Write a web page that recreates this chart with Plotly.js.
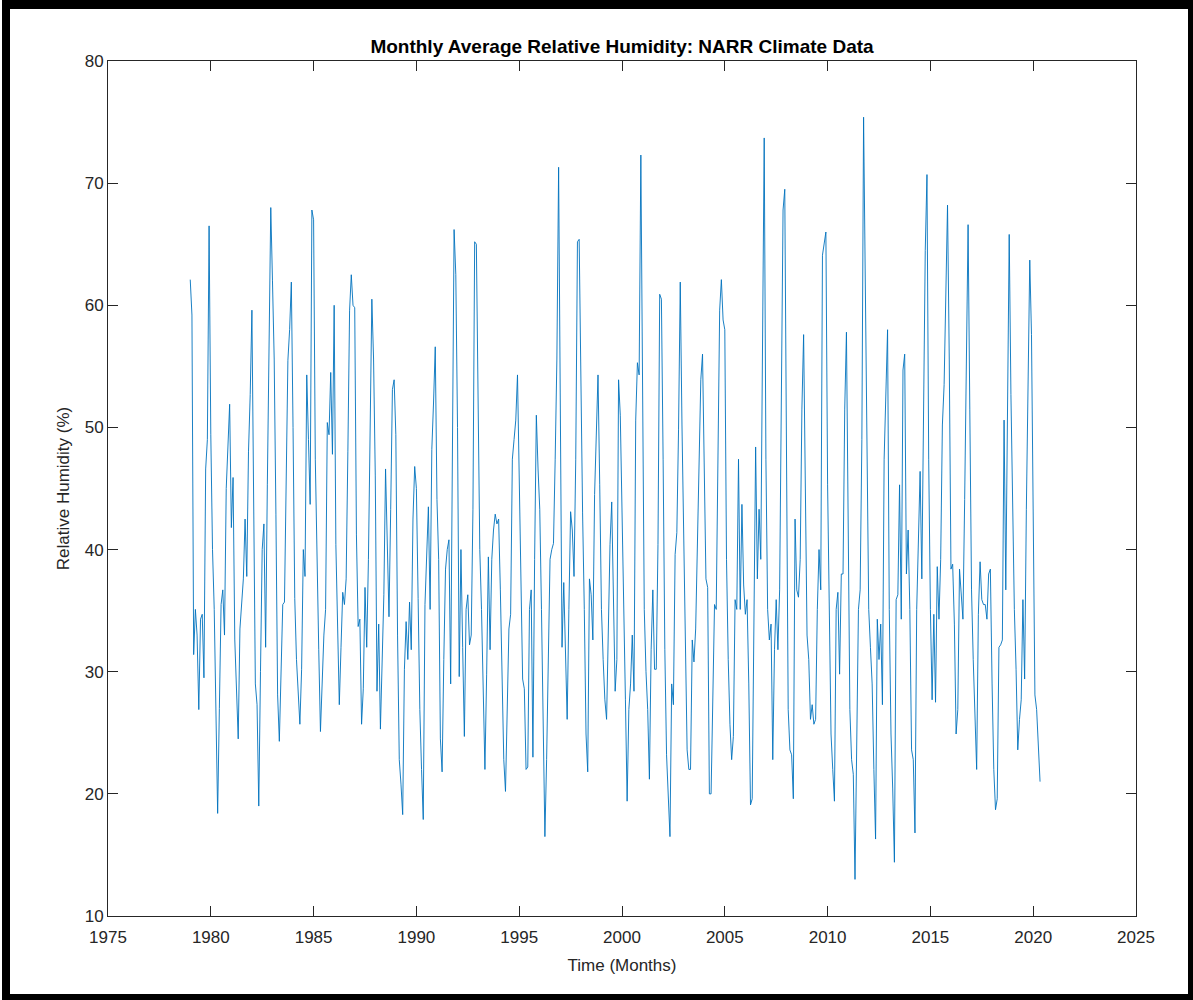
<!DOCTYPE html>
<html>
<head>
<meta charset="utf-8">
<script src="https://cdn.plot.ly/plotly-3.0.1.min.js"></script>
<style>
  html, body { margin: 0; padding: 0; background: #ffffff; }
  #chart { position: absolute; left: 0; top: 0; width: 1193px; height: 1000px; }
  #frame { position: absolute; left: 2px; top: 0; width: 1191px; height: 1000px; box-sizing: border-box;
           border-left: 8px solid #000; border-top: 9px solid #000; border-right: 5px solid #000; border-bottom: 6px solid #000;
           pointer-events: none; }
</style>
</head>
<body>
<div id="chart"></div>
<div id="frame"></div>
<script>
// Monthly average relative humidity (%), January of each year onward
const startYear = 1979;
const rh1979 = [62.1, 59.2, 31.4, 35.1, 33.0, 26.9, 34.3, 34.7, 29.5, 46.6, 49.0, 66.5];
const rh1980 = [49.4, 40.0, 35.1, 27.0, 18.4, 27.0, 35.5, 36.7, 33.0, 45.0, 49.4, 51.9];
const rh1981 = [41.8, 45.9, 32.6, 28.0, 24.5, 33.5, 35.5, 37.6, 42.5, 37.8, 48.0, 52.7];
const rh1982 = [59.6, 45.7, 29.0, 27.3, 19.0, 30.0, 40.0, 42.1, 32.0, 45.3, 58.0, 68.0];
const rh1983 = [62.0, 55.6, 42.9, 28.1, 24.3, 30.0, 35.5, 35.7, 48.2, 55.5, 58.0, 61.9];
const rh1984 = [50.0, 36.0, 31.0, 28.0, 25.7, 30.2, 40.0, 37.8, 54.3, 49.0, 43.7, 67.8];
const rh1985 = [67.0, 47.4, 38.0, 31.8, 25.1, 30.0, 33.0, 35.1, 50.4, 49.4, 54.5, 47.8];
const rh1986 = [60.0, 40.4, 33.0, 27.3, 32.0, 36.5, 35.5, 37.6, 48.0, 59.6, 62.5, 60.0];
const rh1987 = [59.8, 41.2, 33.7, 34.3, 25.7, 28.6, 36.9, 32.0, 39.2, 50.0, 60.5, 55.6];
const rh1988 = [46.1, 28.4, 33.9, 25.3, 30.2, 36.3, 46.6, 40.8, 34.5, 43.3, 53.1, 53.9];
const rh1989 = [49.4, 33.0, 22.8, 20.8, 18.3, 30.2, 34.1, 31.0, 35.7, 31.8, 42.5, 46.8];
const rh1990 = [45.0, 36.0, 26.9, 22.0, 17.9, 35.5, 39.2, 43.5, 35.1, 48.2, 52.0, 56.6];
const rh1991 = [44.1, 39.2, 24.5, 21.8, 31.0, 38.4, 40.0, 40.8, 29.0, 47.4, 66.2, 62.5];
const rh1992 = [50.0, 29.6, 40.0, 32.0, 24.7, 35.1, 36.3, 32.2, 33.0, 43.3, 65.2, 65.0];
const rh1993 = [49.4, 40.0, 35.1, 27.9, 22.0, 29.8, 39.4, 31.8, 39.2, 41.6, 42.9, 42.1];
const rh1994 = [42.5, 36.7, 28.1, 22.8, 20.2, 27.7, 33.5, 34.7, 47.4, 49.0, 50.6, 54.3];
const rh1995 = [45.3, 36.7, 29.4, 28.6, 22.0, 22.2, 35.1, 36.7, 23.0, 39.2, 51.0, 46.6];
const rh1996 = [43.3, 35.1, 23.6, 16.5, 22.8, 31.8, 39.2, 40.0, 40.5, 47.4, 55.6, 71.3];
const rh1997 = [51.5, 32.0, 37.3, 31.0, 26.1, 35.1, 43.1, 41.6, 37.8, 47.4, 65.2, 65.4];
const rh1998 = [51.5, 43.0, 35.1, 24.9, 21.8, 37.6, 36.3, 32.6, 44.5, 49.4, 54.3, 45.3];
const rh1999 = [35.1, 31.0, 27.7, 26.1, 35.1, 40.4, 43.9, 35.1, 28.4, 31.0, 53.9, 51.0];
const rh2000 = [42.0, 35.0, 27.7, 19.4, 26.9, 29.0, 33.0, 28.4, 50.6, 55.3, 54.3, 72.3];
const rh2001 = [51.5, 35.1, 30.0, 26.9, 21.2, 31.8, 36.7, 30.2, 30.2, 40.4, 60.9, 60.5];
const rh2002 = [47.4, 31.8, 23.2, 20.0, 16.5, 29.0, 27.3, 39.6, 41.4, 49.8, 61.9, 50.2];
const rh2003 = [40.0, 31.0, 23.6, 22.0, 22.0, 32.6, 30.8, 33.5, 40.0, 47.4, 53.9, 56.0];
const rh2004 = [47.0, 37.6, 36.9, 20.0, 20.0, 29.0, 35.5, 35.1, 47.4, 59.6, 62.1, 58.8];
const rh2005 = [58.0, 39.2, 31.0, 25.7, 22.8, 24.7, 35.9, 35.1, 47.4, 35.1, 43.7, 37.1];
const rh2006 = [34.7, 35.9, 29.0, 19.1, 19.6, 31.8, 48.4, 37.6, 43.3, 39.2, 57.6, 73.7];
const rh2007 = [47.4, 35.1, 32.6, 33.9, 22.8, 31.8, 35.9, 31.8, 36.7, 55.0, 67.8, 69.5];
const rh2008 = [49.4, 26.9, 23.6, 23.2, 19.6, 42.5, 36.7, 36.1, 39.2, 51.5, 57.6, 43.3];
const rh2009 = [33.0, 31.0, 26.1, 27.3, 25.7, 26.1, 35.1, 40.0, 36.7, 64.1, 65.2, 66.0];
const rh2010 = [45.3, 33.0, 24.9, 22.0, 19.4, 35.1, 36.5, 29.8, 38.0, 38.0, 51.5, 57.8];
const rh2011 = [43.3, 26.9, 22.8, 21.6, 13.0, 26.9, 35.1, 36.7, 49.0, 75.4, 60.0, 50.0];
const rh2012 = [35.1, 32.0, 29.0, 22.0, 16.3, 34.3, 31.0, 33.9, 27.3, 47.4, 53.5, 58.0];
const rh2013 = [35.1, 24.9, 20.4, 14.4, 35.9, 36.3, 45.3, 34.3, 54.7, 56.0, 38.0, 41.6];
const rh2014 = [35.1, 23.6, 22.8, 16.8, 35.1, 40.8, 46.4, 37.6, 49.4, 64.5, 70.7, 47.4];
const rh2015 = [35.1, 27.7, 34.7, 27.5, 38.6, 34.3, 39.2, 50.2, 53.5, 61.7, 68.2, 55.6];
const rh2016 = [38.4, 38.8, 33.9, 24.9, 26.9, 38.4, 36.7, 34.3, 44.1, 55.6, 66.6, 51.5];
const rh2017 = [36.7, 31.0, 26.9, 22.0, 34.7, 39.0, 35.9, 35.5, 35.5, 34.3, 38.0, 38.4];
const rh2018 = [29.0, 22.0, 18.7, 19.6, 32.0, 32.2, 32.6, 50.6, 36.7, 51.5, 65.8, 52.7];
const rh2019 = [43.3, 35.1, 30.2, 23.6, 26.1, 27.7, 35.9, 29.4, 43.3, 55.6, 63.7, 57.6];
const rh2020 = [43.3, 28.1, 26.9, 24.0, 21.0];

const xTickVals = [1975, 1980, 1985, 1990, 1995, 2000, 2005, 2010, 2015, 2020, 2025];
const yTickVals = [10, 20, 30, 40, 50, 60, 70, 80];

const yearly = [rh1979, rh1980, rh1981, rh1982, rh1983, rh1984, rh1985, rh1986, rh1987, rh1988,
  rh1989, rh1990, rh1991, rh1992, rh1993, rh1994, rh1995, rh1996, rh1997, rh1998,
  rh1999, rh2000, rh2001, rh2002, rh2003, rh2004, rh2005, rh2006, rh2007, rh2008,
  rh2009, rh2010, rh2011, rh2012, rh2013, rh2014, rh2015, rh2016, rh2017, rh2018,
  rh2019, rh2020];

const xs = [], ys = [];
yearly.forEach((arr, k) => {
  arr.forEach((v, m) => { xs.push(startYear + k + m / 12); ys.push(v); });
});

const axisColor = '#262626';
const fontFam = '"Liberation Sans", Arial, Helvetica, sans-serif';

const trace = {
  x: xs, y: ys, type: 'scatter', mode: 'lines',
  line: { color: '#0072BD', width: 0.9 },
  hoverinfo: 'skip'
};

const layout = {
  width: 1193, height: 1000,
  margin: { l: 108, r: 57, t: 61, b: 84 },
  paper_bgcolor: '#ffffff', plot_bgcolor: '#ffffff',
  showlegend: false,
  font: { family: fontFam, size: 17, color: axisColor },
  title: { text: '<b>Monthly Average Relative Humidity: NARR Climate Data</b>',
           font: { family: fontFam, size: 19, color: '#000000' },
           x: 0.5, xref: 'paper', y: 1, yref: 'paper', yanchor: 'bottom', pad: { b: 8 } },
  xaxis: {
    range: [1975, 2025], tickvals: xTickVals, ticktext: xTickVals.map(String),
    ticks: 'inside', ticklen: 10, tickwidth: 1, tickcolor: axisColor,
    showline: true, linecolor: axisColor, linewidth: 1, mirror: 'ticks',
    showgrid: false, zeroline: false, ticklabelstandoff: 6,
    tickfont: { family: fontFam, size: 17, color: axisColor },
    title: { text: 'Time (Months)', font: { family: fontFam, size: 17, color: axisColor }, standoff: 12 },
    automargin: false
  },
  yaxis: {
    range: [10, 80], tickvals: yTickVals, ticktext: yTickVals.map(String),
    ticks: 'inside', ticklen: 10, tickwidth: 1, tickcolor: axisColor,
    showline: true, linecolor: axisColor, linewidth: 1, mirror: 'ticks',
    showgrid: false, zeroline: false,
    tickfont: { family: fontFam, size: 17, color: axisColor },
    title: { text: 'Relative Humidity (%)', font: { family: fontFam, size: 17, color: axisColor }, standoff: 10 },
    automargin: false
  }
};

Plotly.newPlot('chart', [trace], layout, { staticPlot: true, displayModeBar: false });
</script>
</body>
</html>
